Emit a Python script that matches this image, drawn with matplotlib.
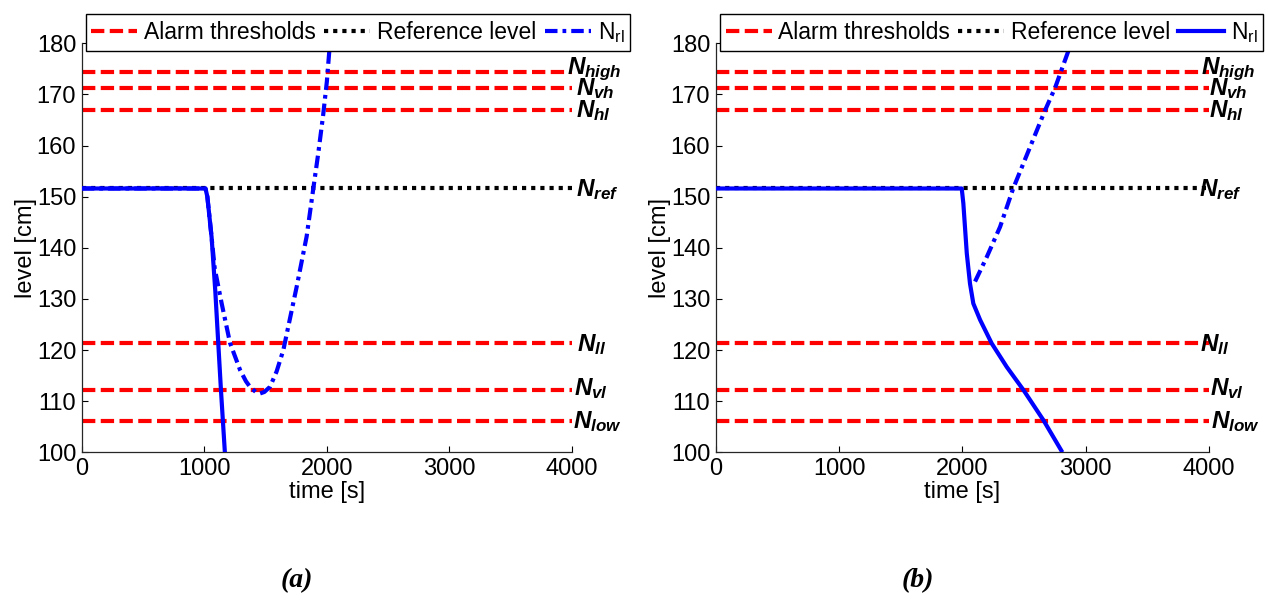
import matplotlib
matplotlib.use("Agg")
import matplotlib.pyplot as plt
from matplotlib.lines import Line2D

plt.rcParams['font.family'] = ['Liberation Sans', 'DejaVu Sans']
plt.rcParams['mathtext.fontset'] = 'custom'
plt.rcParams['mathtext.rm'] = 'Liberation Sans'
plt.rcParams['mathtext.it'] = 'Liberation Sans:italic:bold'
plt.rcParams['mathtext.bf'] = 'Liberation Sans:bold'

# ---------------- data ----------------
threshold_names = ['high', 'vh', 'hl', 'll', 'vl', 'low']
threshold_levels = [174.4, 171.3, 166.9, 121.3, 112.2, 106.1]
ref_name = 'ref'
ref_level = 151.6

x_ticks = [0, 1000, 2000, 3000, 4000]
y_ticks = [100, 110, 120, 130, 140, 150, 160, 170, 180]

# panel (a)
a_solid_t = [0, 1010, 1025, 1060, 1090, 1114, 1136, 1168]
a_solid_y = [151.6, 151.6, 150.0, 142.0, 131.5, 121.4, 112.2, 100.0]
a_dd_t = [0, 1010, 1025, 1060, 1085, 1142, 1210, 1292, 1340, 1373, 1420, 1454, 1490, 1536, 1590, 1645, 1754, 1835, 1889, 1930, 1970, 2000, 2025]
a_dd_y = [151.6, 151.6, 150.0, 142.0, 136.0, 129.1, 121.4, 116.1, 113.9, 112.8, 111.8, 111.5, 111.8, 112.8, 115.8, 120.0, 132.4, 142.2, 151.5, 158.5, 166.0, 172.5, 180.0]

# panel (b)
b_solid_t = [0, 1995, 2008, 2036, 2062, 2089, 2144, 2238, 2360, 2495, 2657, 2811]
b_solid_y = [151.6, 151.6, 148.7, 138.9, 133.0, 129.1, 125.9, 121.3, 116.7, 112.2, 106.3, 100.0]
b_dd_t = [2103, 2198, 2306, 2412, 2669, 2752, 2882]
b_dd_y = [133.4, 138.2, 144.1, 151.6, 166.8, 171.3, 180.0]

legend_labels = ['Alarm thresholds', 'Reference level', r'N$_{\rm rl}$']
panel_titles = ['(a)', '(b)']

# ---------------- styles ----------------
RED = (1, 0, 0)
BLUE = (0, 0, 1)
LW = 3.0
DASH = (3.2, 1.3)
DOT = (1.0, 1.2)
DASHDOT = (3.0, 1.2, 0.9, 1.2)
FS = 17
LEG_FS = 16.5

fig = plt.figure(figsize=(12.69, 6.04), dpi=100)

W, H = 1269.0, 604.0
axes_px = [(81.7, 572.0), (715.7, 1209.0)]
top_px, bot_px = 43.3, 452.3

label_x = {
    0: {'high': 3960, 'vh': 4030, 'hl': 4030, 'ref': 4030, 'll': 4040, 'vl': 4015, 'low': 4005},
    1: {'high': 3935, 'vh': 4000, 'hl': 4000, 'ref': 3920, 'll': 3930, 'vl': 4010, 'low': 4015},
}
label_dy = {'high': -0.5, 'vh': -1.4, 'hl': -1.4, 'ref': -1.4, 'll': -1.6, 'vl': -1.0, 'low': -1.4}

legend_px = [(85.7, 630.0), (720.0, 1263.0)]
leg_top, leg_bot = 6.0, 50.7
title_x = [297, 918]

for i in range(2):
    x0, x1 = axes_px[i]
    ax = fig.add_axes([x0 / W, (H - bot_px) / H, (x1 - x0) / W, (bot_px - top_px) / H])
    ax.set_xlim(0, 4000)
    ax.set_ylim(100, 180)

    for lev in threshold_levels:
        ax.axhline(lev, color=RED, lw=LW, dashes=DASH, zorder=2)
    ax.axhline(ref_level, color='black', lw=LW, dashes=DOT, zorder=2)

    if i == 0:
        ax.plot(a_dd_t, a_dd_y, color=BLUE, lw=LW, dashes=DASHDOT, zorder=3)
        ax.plot(a_solid_t, a_solid_y, color=BLUE, lw=LW, zorder=4, solid_capstyle='butt')
        third = Line2D([], [], color=BLUE, lw=LW, dashes=DASHDOT)
    else:
        ax.plot(b_dd_t, b_dd_y, color=BLUE, lw=LW, dashes=DASHDOT, zorder=3)
        ax.plot(b_solid_t, b_solid_y, color=BLUE, lw=LW, zorder=4, solid_capstyle='butt')
        third = Line2D([], [], color=BLUE, lw=LW)

    for name, lev in zip(threshold_names + [ref_name], threshold_levels + [ref_level]):
        ax.text(label_x[i][name], lev + label_dy[name], r'$N_{%s}$' % name,
                fontsize=17.5, va='baseline', ha='left', clip_on=False, zorder=5)

    ax.set_xticks(x_ticks)
    ax.set_yticks(y_ticks)
    ax.tick_params(direction='in', length=4, width=0.8, labelsize=FS, pad=4,
                   top=False, right=False, colors='black')
    for s in ['top', 'right']:
        ax.spines[s].set_visible(False)
    for s in ['left', 'bottom']:
        ax.spines[s].set_color('#262626')
        ax.spines[s].set_linewidth(0.9)
    ax.set_xlabel('time [s]', fontsize=FS, labelpad=1)
    ax.set_ylabel('level [cm]', fontsize=FS, labelpad=0)

    handles = [Line2D([], [], color=RED, lw=LW, dashes=DASH),
               Line2D([], [], color='black', lw=LW, dashes=DOT),
               third]
    lx0, lx1 = legend_px[i]
    leg = fig.legend(handles, legend_labels, loc='lower left',
                     bbox_to_anchor=(lx0 / W, (H - leg_bot) / H, (lx1 - lx0) / W, (leg_bot - leg_top) / H),
                     bbox_transform=fig.transFigure, mode='expand', ncol=3,
                     fontsize=LEG_FS, frameon=True, fancybox=False, framealpha=1,
                     edgecolor='black', borderaxespad=0, handlelength=2.0,
                     handletextpad=0.3, columnspacing=0.3, borderpad=0.25)
    leg.get_frame().set_linewidth(1.0)
    leg.set_zorder(10)

    fig.text(title_x[i] / W, 1 - 581 / H, panel_titles[i], fontsize=20,
             family='Liberation Serif', style='italic', weight='bold',
             ha='center', va='center')

fig.savefig('out.png', dpi=100)
